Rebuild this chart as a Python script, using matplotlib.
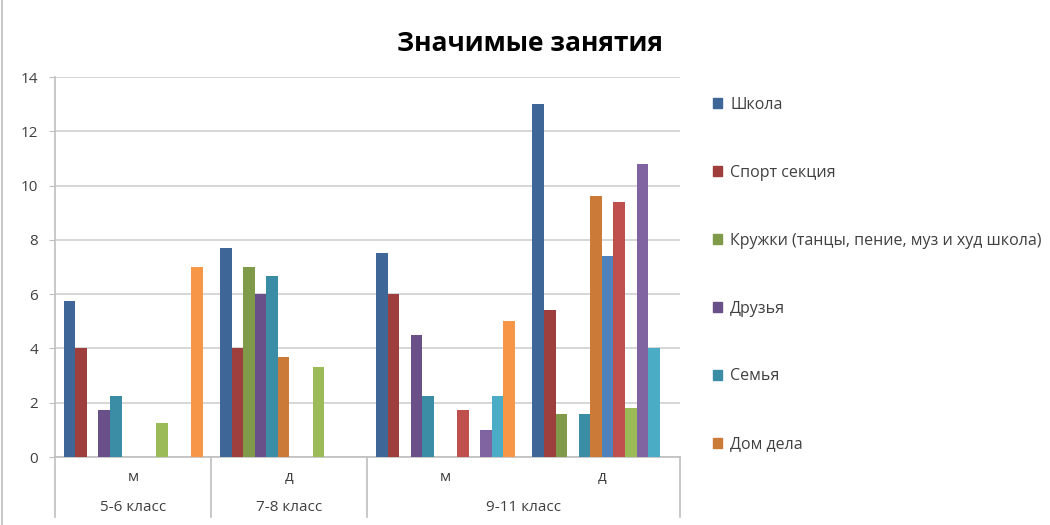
import numpy as np
import matplotlib
matplotlib.use("Agg")
import matplotlib.pyplot as plt
from matplotlib.lines import Line2D

plt.rcParams['font.family'] = ['Open Sans', 'DejaVu Sans']

# -----------------------------------------------------------------------------
# Data
# -----------------------------------------------------------------------------
grades = ["5-6 класс", "7-8 класс", "9-11 класс"]
genders = ["м", "д", "м", "д"]
legend_names = ["Школа", "Спорт секция", "Кружки (танцы, пение, муз и худ школа)",
                "Друзья", "Семья", "Дом дела"]

# 12 series, values per category (м 5-6, д 7-8, м 9-11, д 9-11)
s01 = [5.75, 7.7, 7.5, 13.0]
s02 = [4.0, 4.0, 6.0, 5.4]
s03 = [0, 7.0, 0, 1.6]
s04 = [1.75, 6.0, 4.5, 0]
s05 = [2.25, 6.67, 2.25, 1.6]
s06 = [0, 3.67, 0, 9.6]
s07 = [0, 0, 0, 7.4]
s08 = [0, 0, 1.75, 9.4]
s09 = [1.25, 3.33, 0, 1.8]
s10 = [0, 0, 1.0, 10.8]
s11 = [0, 0, 2.25, 4.0]
s12 = [7.0, 0, 5.0, 0]
series = [s01, s02, s03, s04, s05, s06, s07, s08, s09, s10, s11, s12]

colors = ["#3E6697", "#9E3F3D", "#7F9A48", "#6A5088", "#3A8DA5", "#CC7A37",
          "#4F81BD", "#C0504D", "#9BBB59", "#8064A2", "#4BACC6", "#F79646"]

# -----------------------------------------------------------------------------
# Plot
# -----------------------------------------------------------------------------
fig = plt.figure(figsize=(10.5, 5.25), dpi=100)
ax = fig.add_axes([0.0524, 0.1295, 0.5952, 0.7238])

x = np.arange(len(genders))
w = 1 / 13.5
n = len(series)
for i, vals in enumerate(series):
    ax.bar(x + (i - (n - 1) / 2) * w, vals, width=w, color=colors[i],
           linewidth=0, zorder=3)

ax.set_xlim(-0.5, len(genders) - 0.5)
ax.set_ylim(0, 14)
ax.set_yticks(range(0, 15, 2))
ax.tick_params(axis='y', labelsize=11, length=4, color='#BFBFBF',
               labelcolor='#404040', pad=8)
ax.set_xticks([])
ax.grid(axis='y', color='#D0D0D0', linewidth=1.2, zorder=0)
for side in ['top', 'right']:
    ax.spines[side].set_visible(False)
for side in ['left', 'bottom']:
    ax.spines[side].set_color('#BFBFBF')
    ax.spines[side].set_linewidth(1.2)

# multi-level category axis
trans = ax.get_xaxis_transform()
for xs in [-0.5, 0.5, 1.5, 3.5]:
    ax.add_line(Line2D([xs, xs], [0, -0.158], transform=trans, color='#BFBFBF',
                       linewidth=1.2, clip_on=False))
for xi, g in zip(x, genders):
    ax.text(xi, -0.055, g, transform=trans, ha='center', va='center',
            fontsize=11, color='#404040')
grade_pos = [0, 1, 2.5]
for xp, gr in zip(grade_pos, grades):
    ax.text(xp, -0.134, gr, transform=trans, ha='center', va='center',
            fontsize=11, color='#404040')

fig.text(0.505, 0.918, "Значимые занятия", ha='center', va='center',
         fontsize=19, fontweight='bold', color='#000000')

# legend (only first six series shown, as in the source)
handles = [plt.Rectangle((0, 0), 1, 1, color=colors[i]) for i in range(6)]
fig.legend(handles, legend_names, loc='upper left', bbox_to_anchor=(0.665, 0.843),
           frameon=False, fontsize=11.5, handlelength=0.6, handleheight=0.6,
           handletextpad=0.5, labelspacing=3.25, labelcolor='#404040')

fig.add_artist(Line2D([0.002, 0.002], [0, 1], transform=fig.transFigure,
                      color='#BFBFBF', linewidth=1.2))

fig.savefig("out.png", dpi=100)
